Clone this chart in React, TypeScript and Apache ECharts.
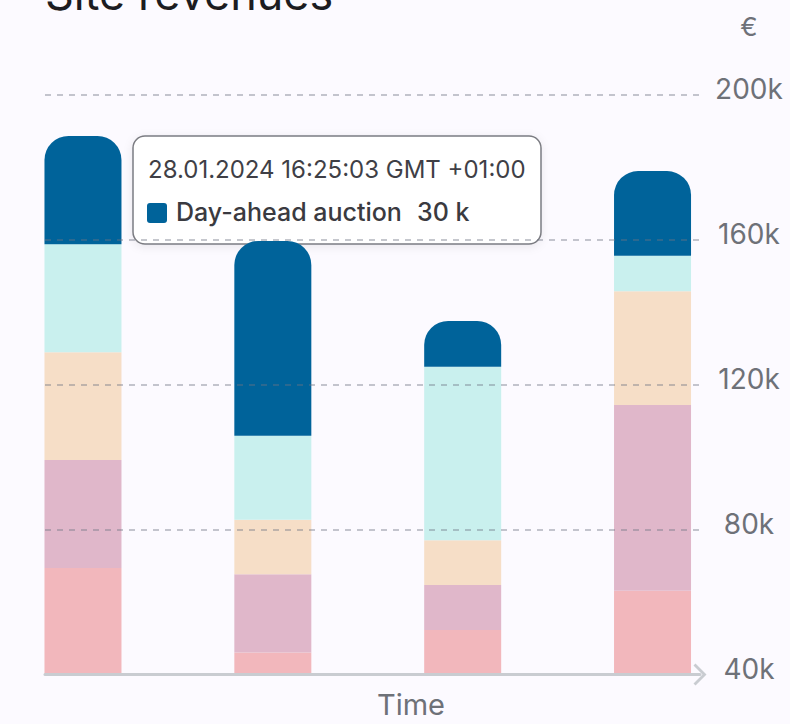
import React, { useEffect, useRef } from 'react';
import * as echarts from 'echarts';

// time slots of the four bars
const slotDates = ['2024-01-25T00:00:00Z', '2024-01-26T00:00:00Z', '2024-01-27T00:00:00Z', '2024-01-28T00:00:00Z'];
const seriesNames = ['Imbalance', 'Intraday', 'FCR', 'aFRR', 'Day-ahead auction'];
// values in k€, stacked bottom to top
const pinkValues = [69.4, 46.1, 52.3, 63.1];
const mauveValues = [29.8, 21.6, 12.4, 51.3];
const peachValues = [29.8, 15.0, 12.4, 31.4];
const cyanValues = [29.8, 23.2, 47.9, 9.8];
const blueValues = [29.9, 53.8, 12.6, 23.4];
const seriesColors = ['#f2b7bc', '#e0b7ca', '#f6dec7', '#c9f0ee', '#00639a'];
const yMin = 40;
const yMax = 200;
const yInterval = 40;
const tooltipTime = '28.01.2024 16:25:03 GMT +01:00';
const tooltipSeries = 'Day-ahead auction';
const tooltipValue = '30 k';

const FONT = 'Inter, "Noto Sans", sans-serif';
const DAY = 24 * 3600 * 1000;
const GRID_LEFT = 45;
const GRID_RIGHT = 90;
const BAR_WIDTH = 77;

export default function App() {
  const ref = useRef<HTMLDivElement>(null);
  useEffect(() => {
    if (!ref.current) return;
    const chart = echarts.init(ref.current, null, { renderer: 'svg' });
    const times = slotDates.map((d) => Date.parse(d));
    // visible time window (in days relative to the first slot); ECharts widens a
    // time axis that carries bars by the bar width, so pre-shrink it accordingly
    const viewMin = -0.2;
    const viewMax = 3.25;
    const axisLen = 790 - GRID_LEFT - GRID_RIGHT;
    const span = viewMax - viewMin;
    const buf = span - span * (1 - BAR_WIDTH / axisLen);
    const xMin = times[0] + (viewMin + buf / 2) * DAY;
    const xMax = times[0] + (viewMax - buf / 2) * DAY;

    const valueSets = [pinkValues, mauveValues, peachValues, cyanValues, blueValues];
    const series = valueSets.map((vals, i) => ({
      name: seriesNames[i],
      type: 'bar',
      stack: 'revenue',
      barWidth: BAR_WIDTH,
      data: vals.map((v, j) => [times[j], v]),
      itemStyle: {
        color: seriesColors[i],
        borderRadius: i === valueSets.length - 1 ? [24, 24, 0, 0] : 0,
      },
      z: 2,
    }));
    chart.setOption({
      animation: false,
      backgroundColor: '#fcfaff',
      title: {
        text: 'Site revenues',
        left: 40,
        top: -34,
        textStyle: { fontFamily: FONT, fontSize: 45, fontWeight: 400, color: '#1c1c21' },
      },
      grid: { left: GRID_LEFT, right: GRID_RIGHT, top: 95, bottom: 49.5 },
      xAxis: {
        type: 'time',
        min: xMin,
        max: xMax,
        name: 'Time',
        nameLocation: 'middle',
        nameGap: 15,
        nameTextStyle: {
          fontFamily: FONT,
          fontSize: 29,
          color: '#6e7178',
          padding: [0, 0, 0, 77],
        },
        axisLine: {
          show: true,
          onZero: false,
          lineStyle: { color: '#c9ccd1', width: 3 },
          symbol: ['none', 'path://M0,11 L11,0 L22,11 L20,13 L11,4 L2,13 Z'],
          symbolSize: [22, 13],
        },
        axisTick: { show: false },
        axisLabel: { show: false },
        splitLine: { show: false },
        z: 6,
      },
      yAxis: {
        type: 'value',
        position: 'right',
        min: yMin,
        max: yMax,
        interval: yInterval,
        axisLine: { show: false },
        axisTick: { show: false },
        axisLabel: {
          formatter: (v: number) => v + 'k',
          margin: 49,
          align: 'center',
          verticalAlign: 'bottom',
          lineHeight: 12,
          fontFamily: FONT,
          fontSize: 28,
          color: '#6e7178',
        },
        splitLine: {
          show: true,
          lineStyle: { type: [6, 6], color: 'rgba(110,115,130,0.4)', width: 2 },
        },
        z: 5,
      },
      series,
      graphic: [
        {
          type: 'text',
          x: 749,
          y: 26,
          z: 50,
          style: {
            text: '€',
            fontFamily: FONT,
            fontSize: 26,
            fill: '#6e7178',
            align: 'center',
            verticalAlign: 'middle',
          },
        },
        {
          type: 'group',
          x: 133,
          y: 136,
          z: 100,
          children: [
            {
              type: 'rect',
              shape: { x: 0, y: 0, width: 408, height: 108, r: 12 },
              style: {
                fill: '#ffffff',
                stroke: '#7b7c82',
                lineWidth: 1.5,
                shadowBlur: 10,
                shadowColor: 'rgba(0,0,0,0.08)',
                shadowOffsetY: 2,
              },
            },
            {
              type: 'text',
              x: 15,
              y: 33,
              style: {
                text: tooltipTime,
                fontFamily: FONT,
                fontSize: 24,
                fill: '#3f3f46',
                verticalAlign: 'middle',
              },
            },
            {
              type: 'rect',
              shape: { x: 14, y: 67, width: 20, height: 20, r: 3 },
              style: { fill: seriesColors[4] },
            },
            {
              type: 'text',
              x: 43,
              y: 76,
              style: {
                text: tooltipSeries,
                fontFamily: FONT,
                fontSize: 25,
                fontWeight: 500,
                fill: '#3a3a40',
                verticalAlign: 'middle',
              },
            },
            {
              type: 'text',
              x: 284,
              y: 76,
              style: {
                text: tooltipValue,
                fontFamily: FONT,
                fontSize: 25,
                fontWeight: 500,
                fill: '#3a3a40',
                verticalAlign: 'middle',
              },
            },
          ],
        },
      ],
    });
    return () => chart.dispose();
  }, []);
  return <div ref={ref} style={{ width: 790, height: 724, position: 'absolute', left: 0, top: 0 }} />;
}
